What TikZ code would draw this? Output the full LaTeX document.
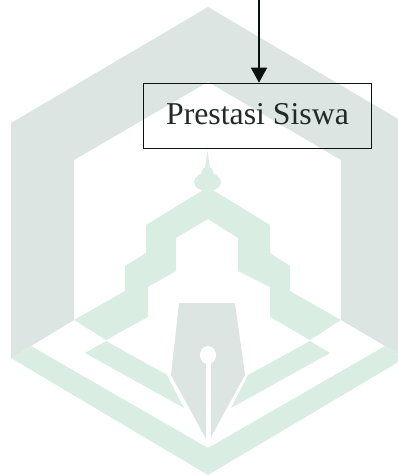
\documentclass[tikz,border=0pt]{standalone}
\usepackage{fontspec}
\setmainfont{Liberation Serif}
\usetikzlibrary{arrows.meta,positioning,calc}
\definecolor{logoGray}{RGB}{220,229,226}
\definecolor{logoGreen}{RGB}{217,237,227}
\definecolor{ink}{RGB}{10,18,16}

\begin{document}
\begin{tikzpicture}[x=1pt,y=-1pt,
  grayshape/.style={fill=logoGray,draw=none},
  greenshape/.style={fill=logoGreen,draw=none},
  box/.style={draw=ink,line width=1.6pt,minimum width=228pt,minimum height=65pt,inner sep=0pt,
              text=ink!90,font=\fontsize{31.8}{36}\selectfont,text height=20pt,text depth=4pt},
  a/.style={-{Triangle[length=15pt,width=16pt]},ink,line width=1.5pt}]
 \useasboundingbox (0,0) rectangle (398,475);
 % logo behind the box
 \begin{scope}
  \clip (0,0) rectangle (398,475);
  \fill[grayshape] (11,358)--(11,123)--(208,7)--(405,123)--(405,358)--(385,346)--(341,320)--(341,160)--(208,82)--(74,160)--(74,320)--(31,346)--cycle;
  \fill[greenshape] (11,358)--(31,346)--(208,448)--(385,346)--(405,358)--(208,475)--cycle;
  \fill[greenshape] (74,320)--(125,291)--(125,266)--(146,253)--(146,225)--(208,187)--(270,225)--(270,253)--(290,266)--(290,291)--(341,320)--(310,340)--(270,317)--(270,287)--(238,271)--(238,238)--(208,219)--(176,238)--(176,271)--(148,287)--(148,317)--(106,340)--cycle;
  \fill[greenshape] (106,341)--(167,375)--(184,408)--(85,353)--cycle;
  \fill[greenshape] (310,341)--(248,375)--(231,408)--(330,353)--cycle;
  \fill[greenshape] (207.5,151)--(210,168)--(205,168)--cycle;
  \fill[greenshape] (207.5,172) ellipse [x radius=6,y radius=5];
  \fill[greenshape] (207.5,182) ellipse [x radius=13.5,y radius=9.5];
  % pen nib, slit on top
  \fill[grayshape] (179,303)--(235,303)--(245,375)--(211,437)--(208,441)--(205,437)--(171,375)--cycle;
  \fill[white] (205.5,445)--(205.5,360)--(210.5,360)--(210.5,445)--cycle;
  \fill[white] (208,355) ellipse [x radius=8,y radius=9];
 \end{scope}
 \node[box] (prestasi) at (257.5,116) {Prestasi Siswa};
 \coordinate (top) at (259,0);
 \draw[a] (top)--(top|-prestasi.north);
\end{tikzpicture}
\end{document}
